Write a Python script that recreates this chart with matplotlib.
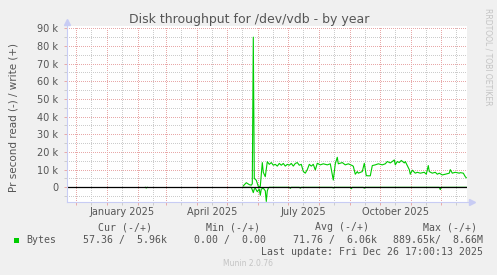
import numpy as np
import matplotlib
matplotlib.use('Agg')
import matplotlib.pyplot as plt
import matplotlib.dates as mdates
from matplotlib.patches import Rectangle

# Munin "by year" window (400 days up to the last update)
start_date = np.datetime64('2024-11-21T17:00')
end_date = np.datetime64('2025-12-26T17:00')

# write (+) series, days after 2024-11-22 and value in k bytes/s
write_days = [176, 179, 182, 184, 185, 186, 187, 189, 191, 193, 195, 196, 198, 200, 202,
              204, 206, 208, 210, 212, 214, 216, 218, 220, 222, 224, 226, 228, 230, 232,
              234, 236, 238, 240, 242, 244, 246, 248, 250, 253, 256, 260, 263, 266, 268,
              270, 271, 275, 278, 281, 285, 286, 288, 290, 291, 295, 297, 299, 301, 303,
              305, 308, 311, 315, 318, 320, 323, 325, 327, 328, 330, 332, 334, 337, 338,
              340, 342, 343, 345, 348, 350, 353, 357, 359, 361, 362, 365, 368, 370, 372,
              375, 378, 382, 383, 385, 388, 392, 393, 396, 398, 399]
write_k = [0.8, 2.6, 1.5, 1.2, 2.0, 85.0, 5.0, 4.0, 0.5, 0.5, 14.0, 8.5, 6.0, 14.5, 13.0,
           14.0, 12.5, 13.0, 12.0, 13.5, 12.5, 13.5, 12.0, 13.0, 12.5, 13.5, 12.0, 13.5, 14.0, 12.5,
           13.0, 9.0, 8.0, 10.0, 13.0, 12.0, 13.0, 9.8, 13.6, 12.7, 13.3, 12.7, 13.3, 4.1, 13.3,
           17.0, 13.3, 14.0, 12.7, 13.3, 12.3, 11.9, 7.4, 8.9, 8.0, 8.9, 13.6, 6.6, 6.5, 6.5,
           12.3, 12.7, 13.3, 12.7, 13.3, 14.6, 13.8, 14.6, 15.5, 12.7, 14.6, 14.0, 15.2, 13.8, 14.6,
           12.3, 10.0, 7.4, 9.7, 8.0, 8.5, 8.0, 8.5, 7.4, 12.3, 8.9, 8.0, 8.5, 7.4, 8.0,
           7.0, 7.4, 8.0, 10.0, 8.0, 8.5, 8.0, 8.3, 8.0, 6.0, 5.4]

# read (-) series, NaN breaks the line where there is no data
read_days = [78, 79, 80, 81, 176, 184, 186, 187, 188, 190, 192, 193, 194, 196, 198, 199,
             200, 201, 202, 204, 222, 223, 224, 232, 233, 234, 265, 266, 267, 283, 284,
             285, 296, 297, 298, 372, 373, 374, 399]
read_k = [0.0, -0.4, 0.0, np.nan, 0.0, 0.0, -3.0, -1.0, -0.5, -2.5, -1.0, -4.5, -1.0, -0.5, -2.0, -8.0,
          -2.0, -0.5, 0.0, 0.0, 0.0, -0.6, 0.0, 0.0, -0.5, 0.0, 0.0, -0.4, 0.0, 0.0, -0.8,
          0.0, 0.0, -0.5, 0.0, 0.0, -1.3, 0.0, 0.0]

y_ticks = [0, 10000, 20000, 30000, 40000, 50000, 60000, 70000, 80000, 90000]
y_tick_labels = ['0', '10 k', '20 k', '30 k', '40 k', '50 k', '60 k', '70 k', '80 k', '90 k']
month_labels = ['January 2025', 'April 2025', 'July 2025', 'October 2025']
label_dates = ['2025-01-16', '2025-04-16', '2025-07-16', '2025-10-16']

legend_headers = ['Cur (-/+)', 'Min (-/+)', 'Avg (-/+)', 'Max (-/+)']
legend_values = ['57.36 /  5.96k', '0.00 /  0.00', '71.76 /  6.06k', '889.65k/  8.66M']
last_update = 'Last update: Fri Dec 26 17:00:13 2025'

W, H = 497, 275
bg = '#F0F0F0'
green = '#00CC00'
txt = '#555555'
major_c = '#E8A8A8'
minor_c = '#CCCCCC'
axis_c = '#C8CCF4'


def fx(px):
    return px / W


def fy(py):
    return 1 - py / H


fig = plt.figure(figsize=(W / 100, H / 100), dpi=100, facecolor=bg)
ax = fig.add_axes([fx(67), fy(201.7), 400 / W, (201.7 - 26) / H])
ax.set_facecolor('white')

base = np.datetime64('2024-11-22')
w_dates = base + np.array(write_days).astype('timedelta64[D]')
r_dates = base + np.array(read_days).astype('timedelta64[D]')
w_vals = np.array(write_k) * 1000
r_vals = np.array(read_k) * 1000

ax.plot(w_dates, w_vals, color=green, lw=0.8, zorder=3)
ax.plot(r_dates, r_vals, color=green, lw=0.8, zorder=3)
ax.axhline(0, color='black', lw=0.9, zorder=4)

ax.set_xlim(start_date, end_date)
ax.set_ylim(-8150, 91300)

# grid: months red, mid-month grey, 10k red, 5k grey
ax.xaxis.set_major_locator(mdates.MonthLocator(bymonthday=1))
ax.xaxis.set_minor_locator(mdates.MonthLocator(bymonthday=16))
ax.xaxis.set_major_formatter(plt.NullFormatter())
ax.set_yticks(y_ticks)
ax.set_yticklabels(y_tick_labels)
ax.set_yticks(np.arange(-5000, 91000, 10000), minor=True)
ax.grid(True, which='major', color=major_c, lw=0.72, linestyle=(0, (1, 2)), antialiased=False)
ax.grid(True, which='minor', color=minor_c, lw=0.72, linestyle=(0, (1, 2)), antialiased=False)
ax.tick_params(axis='both', which='both', length=2.4, width=0.7)
ax.tick_params(axis='both', which='major', color=major_c)
ax.tick_params(axis='both', which='minor', color=minor_c)
ax.tick_params(axis='y', labelsize=7, labelcolor=txt, pad=4)
ax.set_axisbelow(True)

for lab, d in zip(month_labels, label_dates):
    ax.text(np.datetime64(d), -0.03, lab, transform=ax.get_xaxis_transform(),
            ha='center', va='top', fontsize=7, color=txt)

for s in ax.spines.values():
    s.set_visible(False)

# axes with arrow heads
ax.plot([0, 0], [0, 1.025], color=axis_c, lw=0.8, transform=ax.transAxes, clip_on=False, zorder=5)
ax.plot([0], [1.025], marker='^', ms=4, color=axis_c, transform=ax.transAxes, clip_on=False, zorder=5)
ax.plot([0, 1.013], [0, 0], color=axis_c, lw=0.8, transform=ax.transAxes, clip_on=False, zorder=5)
ax.plot([1.013], [0], marker='>', ms=4, color=axis_c, transform=ax.transAxes, clip_on=False, zorder=5)

fig.text(fx(249), fy(19), 'Disk throughput for /dev/vdb - by year', ha='center', va='center',
         fontsize=9, color=txt)
fig.text(fx(14), fy(117), 'Pr second read (-) / write (+)', rotation=90, ha='center', va='center',
         fontsize=7.5, color=txt)
fig.text(fx(488), fy(8), 'RRDTOOL / TOBI OETIKER', rotation=270, ha='center', va='top',
         fontsize=5.5, color='#C4C4C4')

mono = dict(family='DejaVu Sans Mono', fontsize=7.1, color=txt)
for h, cx in zip(legend_headers, [125, 233, 342, 450]):
    fig.text(fx(cx), fy(227.5), h, ha='center', va='center', **mono)
fig.add_artist(Rectangle((fx(14), fy(243)), 5 / W, 5 / H, transform=fig.transFigure,
                         facecolor=green, edgecolor='none'))
fig.text(fx(26.7), fy(240), 'Bytes', ha='left', va='center', **mono)
for v, rx in zip(legend_values, [166.7, 266, 377, 483]):
    fig.text(fx(rx), fy(240), v, ha='right', va='center', **mono)
fig.text(fx(483), fy(252), last_update, ha='right', va='center', **mono)
fig.text(fx(248), fy(264), 'Munin 2.0.76', ha='center', va='center', fontsize=5.5, color='#C4C4C4')

fig.savefig('out.png', dpi=100, facecolor=bg)
